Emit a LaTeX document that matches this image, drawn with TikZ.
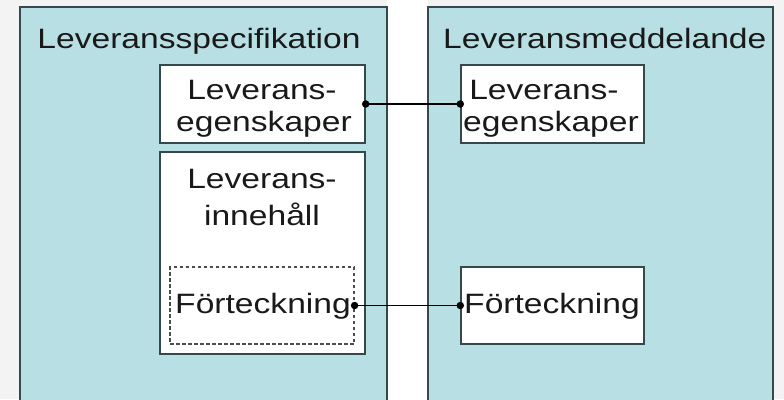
\documentclass[tikz,border=0pt]{standalone}
\usepackage{fontspec}
\setmainfont[FakeStretch=1.2]{Liberation Sans}
\definecolor{teal1}{HTML}{B8DFE3}
\definecolor{edge1}{HTML}{34494C}
\definecolor{bg1}{HTML}{F3F3F3}
\begin{document}
\begin{tikzpicture}[x=1pt,y=-1pt,
  bigbox/.style={draw=edge1,line width=1.4pt,fill=teal1},
  inbox/.style={draw=edge1,line width=1.4pt,fill=white,inner sep=0pt},
  dashbox/.style={draw=black!70,line width=1.2pt,dash pattern=on 3.5pt off 2.5pt,inner sep=0pt},
  lbl/.style={anchor=base,inner sep=0pt,text=black!90,font=\fontsize{28}{32}\selectfont},
  dot/.style={circle,fill=black,inner sep=0pt,minimum size=7.5pt},
  conn/.style={draw=black,line width=1.2pt}]
\useasboundingbox (0,0) rectangle (784,399);
\fill[bg1] (0,0) rectangle (784,399);
\fill[white] (387,0) rectangle (428,399);
\path[bigbox] (20,7) rectangle (387,410);
\path[bigbox] (428,7) rectangle (773,410);
% left inner boxes
\node[inbox,minimum width=205pt,minimum height=78pt] (egL) at (262.5,104) {};
\node[inbox,minimum width=205pt,minimum height=202pt] (inL) at (262.5,253) {};
\node[dashbox,minimum width=184pt,minimum height=77pt] (foL) at (262,305.5) {};
% right inner boxes
\node[inbox,minimum width=183pt,minimum height=78pt] (egR) at (552.5,104) {};
\node[inbox,minimum width=183pt,minimum height=77pt] (foR) at (552.5,305.5) {};
% texts
\node[lbl] (tL) at (199,48) {Leveransspecifikation};
\node[lbl,anchor=base west] (tR) at (443,48) {Leveransmeddelande};
\node[lbl] (egL1) at (262,99) {Leverans-};
\node[lbl] (egL2) at (264,131) {egenskaper};
\node[lbl] (inL1) at (262,188) {Leverans-};
\node[lbl] (inL2) at (262,225) {innehåll};
\node[lbl] (foLt) at (263,313) {Förteckning};
\node[lbl] (egR1) at (544,99) {Leverans-};
\node[lbl] (egR2) at (551,131) {egenskaper};
\node[lbl] (foRt) at (552,313) {Förteckning};
% connectors
\node[dot] (d1) at (egL.east) {};
\node[dot] (d2) at (egR.west) {};
\node[dot] (d3) at (foL.east) {};
\node[dot] (d4) at (foR.west) {};
\draw[conn] (d1.center) -- (d2.center);
\draw[conn] (d3.center) -- (d4.center);
\end{tikzpicture}
\end{document}
